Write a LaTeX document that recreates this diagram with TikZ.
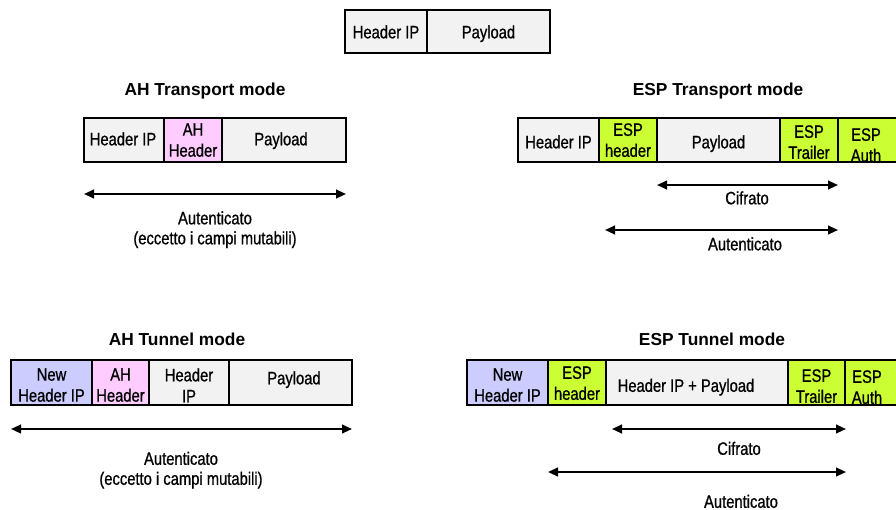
\documentclass[tikz,border=0pt]{standalone}
\usepackage{fontspec}
\setmainfont{Liberation Sans}[FakeStretch=0.82, FakeBold=0.8]
\newfontfamily\titlefont{Liberation Sans}
\usetikzlibrary{arrows.meta}

\definecolor{grayfill}{HTML}{F2F2F2}
\definecolor{ahpink}{HTML}{FFCCFF}
\definecolor{newblue}{HTML}{CCCCFF}
\definecolor{espgreen}{HTML}{CCFF33}

% one field of a packet: name, left x, right x, top y, bottom y, fill
\newcommand\pktcell[6]{%
  \node[cell, fill=#6,
        minimum width={(#3-#2)*0.75pt},
        minimum height={(#5-#4)*0.75pt}] (#1) at (#2,#4) {};}

\begin{document}
\begin{tikzpicture}[x=0.75pt, y=-0.75pt,
  cell/.style={draw=black, line width=1.5pt, inner sep=0pt, outer sep=0pt, anchor=north west},
  txt/.style={inner sep=0pt, anchor=north, align=center, font=\fontsize{13.5}{15.75}\selectfont},
  note/.style={inner sep=0pt, anchor=north, align=center, font=\fontsize{13.5}{15}\selectfont},
  title/.style={inner sep=0pt, anchor=north, font=\titlefont\bfseries\fontsize{13}{15}\selectfont},
  span/.style={line width=1.5pt,
    {Triangle[length=7.5pt,width=6.5pt]}-{Triangle[length=7.5pt,width=6.5pt]}}]
\useasboundingbox (0,0) rectangle (896,510);
\clip (0,0) rectangle (896,510);

% original IP packet
\pktcell{p0ip}{345}{427}{10}{53}{grayfill}
\pktcell{p0pl}{427}{550}{10}{53}{grayfill}
\node[txt] (p0ipT) at (386,25) {Header IP};
\node[txt] (p0plT) at (488.5,25) {Payload};

% AH transport mode
\node[title] (ahTt) at (205,82.5) {AH Transport mode};
\pktcell{ahT1}{84}{164}{118}{162}{grayfill}
\pktcell{ahT2}{164}{222}{118}{162}{ahpink}
\pktcell{ahT3}{222}{346}{118}{162}{grayfill}
\node[txt] (ahT1T) at (123,132) {Header IP};
\node[txt] (ahT2T) at (193,123) {AH\\Header};
\node[txt] (ahT3T) at (281,132) {Payload};
\coordinate (ahTaL) at (84,194);
\coordinate (ahTaR) at (346,194);
\draw[span] (ahTaL) -- (ahTaR);
\node[note] (ahTaT) at (215,211) {Autenticato\\(eccetto i campi mutabili)};

% ESP transport mode
\node[title] (esTt) at (718,82.5) {ESP Transport mode};
\pktcell{esT1}{518}{599}{118}{162}{grayfill}
\pktcell{esT2}{599}{657}{118}{162}{espgreen}
\pktcell{esT3}{657}{780}{118}{162}{grayfill}
\pktcell{esT4}{780}{838}{118}{162}{espgreen}
\pktcell{esT5}{838}{902}{118}{162}{espgreen}
\node[txt] (esT1T) at (558.5,135) {Header IP};
\node[txt] (esT2T) at (628,123) {ESP\\header};
\node[txt] (esT3T) at (718.5,135) {Payload};
\node[txt] (esT4T) at (809,125) {ESP\\Trailer};
\node[txt] (esT5T) at (866,128) {ESP\\Auth};
\coordinate (esTcL) at (657,185);
\coordinate (esTcR) at (838,185);
\draw[span] (esTcL) -- (esTcR);
\node[note] (esTcT) at (747,191) {Cifrato};
\coordinate (esTaL) at (605,230);
\coordinate (esTaR) at (838,230);
\draw[span] (esTaL) -- (esTaR);
\node[note] (esTaT) at (745,237) {Autenticato};

% AH tunnel mode
\node[title] (ahNt) at (177,333) {AH Tunnel mode};
\pktcell{ahN1}{11}{92}{360}{405}{newblue}
\pktcell{ahN2}{92}{149}{360}{405}{ahpink}
\pktcell{ahN3}{149}{229}{360}{405}{grayfill}
\pktcell{ahN4}{229}{352}{360}{405}{grayfill}
\node[txt] (ahN1T) at (51.5,368) {New\\Header IP};
\node[txt] (ahN2T) at (120.5,368) {AH\\Header};
\node[txt] (ahN3T) at (189,368) {Header\\IP};
\node[txt] (ahN4T) at (294,371) {Payload};
\coordinate (ahNaL) at (11,429);
\coordinate (ahNaR) at (352,429);
\draw[span] (ahNaL) -- (ahNaR);
\node[note] (ahNaT) at (181,451.5) {Autenticato\\(eccetto i campi mutabili)};

% ESP tunnel mode
\node[title] (esNt) at (712,333) {ESP Tunnel mode};
\pktcell{esN1}{467}{548}{360}{405}{newblue}
\pktcell{esN2}{548}{606}{360}{405}{espgreen}
\pktcell{esN3}{606}{788}{360}{405}{grayfill}
\pktcell{esN4}{788}{845}{360}{405}{espgreen}
\pktcell{esN5}{845}{902}{360}{405}{espgreen}
\node[txt] (esN1T) at (507.5,368) {New\\Header IP};
\node[txt] (esN2T) at (577,366) {ESP\\header};
\node[txt] (esN3T) at (686,378.5) {Header IP + Payload};
\node[txt] (esN4T) at (816.5,369) {ESP\\Trailer};
\node[txt] (esN5T) at (867,370) {ESP\\Auth};
\coordinate (esNcL) at (612,429);
\coordinate (esNcR) at (846,429);
\draw[span] (esNcL) -- (esNcR);
\node[note] (esNcT) at (739,441.5) {Cifrato};
\coordinate (esNaL) at (548,472);
\coordinate (esNaR) at (846,472);
\draw[span] (esNaL) -- (esNaR);
\node[note] (esNaT) at (741,494.5) {Autenticato};
\end{tikzpicture}
\end{document}
